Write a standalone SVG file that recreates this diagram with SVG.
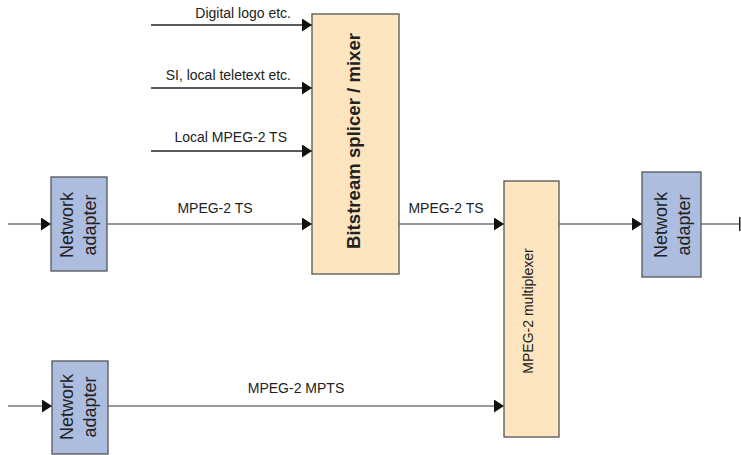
<svg xmlns="http://www.w3.org/2000/svg" width="741" height="455" viewBox="0 0 741 455">
<style>
  text { font-family: "Liberation Sans", Arial, sans-serif; fill: #222; }
  .lbl { font-size: 14px; }
  .na rect { fill: #adbde0; stroke: #555; stroke-width: 1.3; }
  .na text { font-size: 18px; text-anchor: middle; }
  .or { fill: #fde6bf; stroke: #555; stroke-width: 1.3; }
  .ln { stroke: #777; stroke-width: 1.5; fill: none; }
  .lnd { stroke: #222; stroke-width: 1.3; fill: none; }
</style>
<defs>
  <marker id="arr" viewBox="0 0 10 13" refX="10" refY="6.5" markerWidth="10" markerHeight="13" markerUnits="userSpaceOnUse" orient="auto">
    <path d="M0,0 L10,6.5 L0,13 z" fill="#111"/>
  </marker>
  <marker id="bar" viewBox="0 0 3 14" refX="1.5" refY="7" markerWidth="3" markerHeight="14" markerUnits="userSpaceOnUse" orient="auto">
    <rect x="0" y="0" width="2" height="14" fill="#222"/>
  </marker>
</defs>

<g id="connectors">
  <line class="lnd" x1="151" y1="25" x2="312" y2="25" marker-end="url(#arr)"/>
  <line class="lnd" x1="151" y1="88" x2="312" y2="88" marker-end="url(#arr)"/>
  <line class="lnd" x1="151" y1="151" x2="312" y2="151" marker-end="url(#arr)"/>
  <line class="ln" x1="8" y1="224" x2="51" y2="224" marker-end="url(#arr)"/>
  <line class="ln" x1="107" y1="224" x2="312" y2="224" marker-end="url(#arr)"/>
  <line class="ln" x1="399" y1="224" x2="504" y2="224" marker-end="url(#arr)"/>
  <line class="ln" x1="559" y1="224" x2="642" y2="224" marker-end="url(#arr)"/>
  <line class="ln" x1="701" y1="224" x2="740" y2="224" marker-end="url(#bar)"/>
  <line class="ln" x1="8" y1="406" x2="52" y2="406" marker-end="url(#arr)"/>
  <line class="ln" x1="108" y1="406" x2="504" y2="406" marker-end="url(#arr)"/>
  <text class="lbl" x="291" y="18" text-anchor="end">Digital logo etc.</text>
  <text class="lbl" x="291" y="80" text-anchor="end">SI, local teletext etc.</text>
  <text class="lbl" x="287" y="142" text-anchor="end">Local MPEG-2 TS</text>
  <text class="lbl" x="215" y="213" text-anchor="middle">MPEG-2 TS</text>
  <text class="lbl" x="446" y="213" text-anchor="middle">MPEG-2 TS</text>
  <text class="lbl" x="296" y="393" text-anchor="middle">MPEG-2 MPTS</text>
</g>

<g id="na1" class="na">
  <rect x="51" y="177" width="56" height="94"/>
  <text transform="translate(73,225) rotate(-90)">Network</text>
  <text transform="translate(96,225) rotate(-90)">adapter</text>
</g>

<g id="na2" class="na">
  <rect x="52" y="361" width="56" height="93"/>
  <text transform="translate(73,407) rotate(-90)">Network</text>
  <text transform="translate(96,407) rotate(-90)">adapter</text>
</g>

<g id="na3" class="na">
  <rect x="642" y="172" width="59" height="105"/>
  <text transform="translate(667,225) rotate(-90)">Network</text>
  <text transform="translate(690,225) rotate(-90)">adapter</text>
</g>

<g id="splicer">
  <rect class="or" x="312" y="14" width="87" height="260"/>
  <text transform="translate(360,141) rotate(-90)" text-anchor="middle" font-size="18.6" font-weight="bold">Bitstream splicer / mixer</text>
</g>

<g id="multiplexer">
  <rect class="or" x="504" y="181" width="55" height="256"/>
  <text transform="translate(533,311) rotate(-90)" text-anchor="middle" font-size="14">MPEG-2 multiplexer</text>
</g>
</svg>
